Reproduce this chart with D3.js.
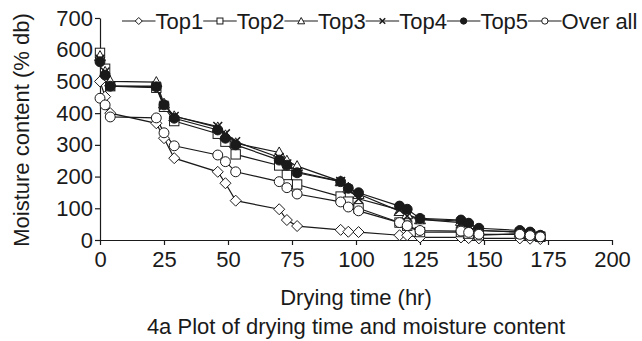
<!DOCTYPE html>
<html>
<head>
<meta charset="utf-8">
<script src="https://cdn.jsdelivr.net/npm/d3@7/dist/d3.min.js"></script>
<style>
  body { margin: 0; background: #fff; }
  svg text { font-family: "Liberation Sans", Arial, sans-serif; fill: #1a1a1a; }
  .axis path, .axis line { stroke: #1a1a1a; stroke-width: 1.2; }
</style>
</head>
<body>
<svg id="chart" width="642" height="341"></svg>
<script>
// drying time (hr) shared by all series
const times = [0, 2, 4, 22, 25, 29, 46, 49, 53, 70, 73, 77, 94, 97, 101, 117, 120, 125, 141, 144, 148, 164, 168, 172];

const top1 = [500, 452, 400, 368, 321, 258, 215, 179, 124, 97, 63, 44, 32, 26, 25, 15, 15, 8, 8, 6, 5, 5, 4, 3];
const top2 = [590, 540, 485, 480, 420, 375, 335, 310, 270, 235, 205, 175, 137, 121, 100, 55, 45, 25, 25, 20, 15, 20, 15, 10];
const top3 = [580, 530, 500, 498, 430, 390, 355, 330, 305, 276, 250, 233, 185, 165, 145, 91, 81, 65, 60, 50, 30, 25, 20, 12];
const top4 = [570, 530, 485, 485, 425, 390, 358, 335, 310, 260, 240, 215, 185, 160, 130, 95, 75, 65, 55, 45, 30, 25, 20, 12];
const top5 = [562, 520, 485, 483, 426, 384, 347, 321, 300, 252, 236, 212, 184, 163, 149, 107, 97, 68, 63, 53, 37, 30, 25, 15];
const overAll = [447, 426, 388, 385, 338, 297, 268, 247, 215, 184, 165, 145, 120, 104, 92, 55, 45, 30, 28, 24, 18, 18, 14, 10];

const seriesNames = ['Top1', 'Top2', 'Top3', 'Top4', 'Top5', 'Over all'];
const seriesMarkers = ['diamond', 'square', 'triangle', 'cross', 'dot', 'circle'];
const xTicks = [0, 25, 50, 75, 100, 125, 150, 175, 200];
const yTicks = [0, 100, 200, 300, 400, 500, 600, 700];

const series = [top1, top2, top3, top4, top5, overAll].map((vals, i) => ({
  name: seriesNames[i],
  marker: seriesMarkers[i],
  points: vals.map((v, j) => ({t: times[j], v: v}))
}));

const svg = d3.select('#chart');
const ink = '#1a1a1a';
const fs = 22;

const x = d3.scaleLinear().domain([0, 200]).range([100, 612]);
const y = d3.scaleLinear().domain([0, 700]).range([240, 18]);

svg.append('g')
  .attr('class', 'axis')
  .attr('transform', `translate(0, ${y(0)})`)
  .call(d3.axisBottom(x).tickValues(xTicks).tickSize(5).tickSizeOuter(0))
  .call(g => g.selectAll('text').attr('font-size', fs).attr('dy', '0.85em'));

svg.append('g')
  .attr('class', 'axis')
  .attr('transform', `translate(${x(0)}, 0)`)
  .call(d3.axisLeft(y).tickValues(yTicks).tickSize(5).tickPadding(2).tickSizeOuter(0))
  .call(g => g.selectAll('text').attr('font-size', fs));

svg.selectAll('.axis text').attr('fill', ink);

// axis titles
svg.append('text')
  .attr('x', 356).attr('y', 305)
  .attr('text-anchor', 'middle')
  .attr('font-size', fs)
  .text('Drying time (hr)');

svg.append('text')
  .attr('x', 356).attr('y', 334)
  .attr('text-anchor', 'middle')
  .attr('font-size', fs)
  .text('4a Plot of drying time and moisture content');

svg.append('text')
  .attr('transform', `translate(29, 130) rotate(-90)`)
  .attr('text-anchor', 'middle')
  .attr('font-size', fs)
  .text('Moisture content (% db)');

function drawMarker(g, type, s) {
  if (type === 'diamond') {
    g.append('path').attr('d', `M0,${-s}L${s},0L0,${s}L${-s},0Z`).attr('fill', '#fff').attr('stroke', ink);
  } else if (type === 'square') {
    g.append('rect').attr('x', -s * 0.85).attr('y', -s * 0.85).attr('width', s * 1.7).attr('height', s * 1.7)
      .attr('fill', '#fff').attr('stroke', ink);
  } else if (type === 'triangle') {
    g.append('path').attr('d', `M0,${-s}L${s},${s * 0.8}L${-s},${s * 0.8}Z`).attr('fill', '#fff').attr('stroke', ink);
  } else if (type === 'cross') {
    g.append('path').attr('d', `M${-s * 0.8},${-s * 0.8}L${s * 0.8},${s * 0.8}M${-s * 0.8},${s * 0.8}L${s * 0.8},${-s * 0.8}`)
      .attr('stroke', ink).attr('stroke-width', 1.5);
  } else if (type === 'dot') {
    g.append('circle').attr('r', s * 0.9).attr('fill', ink).attr('stroke', ink);
  } else {
    g.append('circle').attr('r', s * 0.9).attr('fill', '#fff').attr('stroke', ink);
  }
}

const line = d3.line().x(d => x(d.t)).y(d => y(d.v));

series.forEach(s => {
  svg.append('path')
    .datum(s.points)
    .attr('d', line)
    .attr('fill', 'none')
    .attr('stroke', ink)
    .attr('stroke-width', 1.2);
});

series.forEach(s => {
  svg.append('g')
    .selectAll('g')
    .data(s.points)
    .join('g')
    .attr('transform', d => `translate(${x(d.t)}, ${y(d.v)})`)
    .each(function () { drawMarker(d3.select(this), s.marker, 5.5); });
});

// legend
let lx = 122;
const ly = 21;
const seg = 33.5;
series.forEach(s => {
  svg.append('line').attr('x1', lx).attr('x2', lx + seg).attr('y1', ly).attr('y2', ly)
    .attr('stroke', ink).attr('stroke-width', 1.2);
  const m = svg.append('g').attr('transform', `translate(${lx + seg / 2}, ${ly})`);
  drawMarker(m, s.marker, 3.5);
  const t = svg.append('text').attr('x', lx + seg).attr('y', ly + 8)
    .attr('font-size', fs).text(s.name);
  lx += seg + t.node().getComputedTextLength();
});
</script>
</body>
</html>
